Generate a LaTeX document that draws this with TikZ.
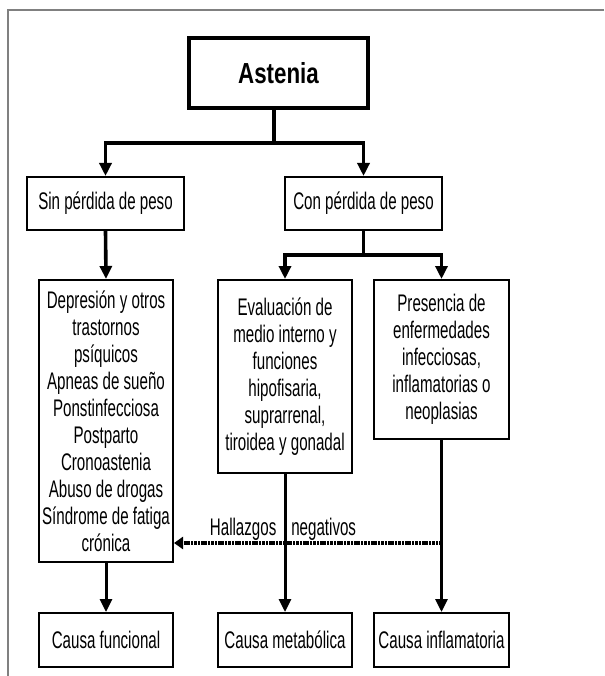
\documentclass[tikz,border=0pt]{standalone}
\usepackage{fontspec}
\setmainfont{Liberation Sans}[FakeStretch=0.63]
\newfontfamily\astfont{Liberation Sans}[FakeStretch=0.77]
\usetikzlibrary{arrows.meta}
\begin{document}
\begin{tikzpicture}[x=1pt,y=-1pt,
  box/.style={draw=black,line width=2pt,inner sep=0pt,align=center,
    font=\fontsize{24}{27}\selectfont},
  conn/.style={line width=3.6pt,-{Triangle[width=12pt,length=13pt]}},
  plain/.style={line width=3.6pt},
  thin conn/.style={line width=3pt,-{Triangle[width=12pt,length=13pt]}},
  dotarrow/.style={line width=4pt,dash pattern=on 2.6pt off 0.8pt,
    -{Triangle[width=12pt,length=9pt]}}]
\useasboundingbox (0,0) rectangle (604,676);
\draw[gray,line width=1.5pt] (604,10) -- (8,10) -- (8,676);

\node[box,line width=3.5pt,minimum width=179pt,minimum height=70pt,
  font=\astfont\fontsize{29}{32}\selectfont\bfseries] (ast) at (278.5,73) {Astenia};
\node[box,minimum width=157pt,minimum height=53pt] (sin) at (105.5,203.5) {Sin pérdida de peso};
\node[box,minimum width=157pt,minimum height=53pt] (con) at (363.5,203.5) {Con pérdida de peso};
\node[box,minimum width=134pt,minimum height=282pt] (dep) at (106,421)
  {Depresión y otros\\trastornos\\psíquicos\\Apneas de sueño\\Ponstinfecciosa\\Postparto\\Cronoastenia\\Abuso de drogas\\Síndrome de fatiga\\crónica};
\node[box,minimum width=134pt,minimum height=193pt] (eval) at (285,376.5)
  {Evaluación de\\medio interno y\\funciones\\hipofisaria,\\suprarrenal,\\tiroidea y gonadal};
\node[box,minimum width=135pt,minimum height=159pt] (pres) at (441.5,359.5)
  {Presencia de\\enfermedades\\infecciosas,\\inflamatorias o\\neoplasias};
\node[box,minimum width=134pt,minimum height=54pt] (cfun) at (106,640) {Causa funcional};
\node[box,minimum width=134pt,minimum height=54pt] (cmet) at (285,640) {Causa metabólica};
\node[box,minimum width=135pt,minimum height=54pt] (cinf) at (441.5,640) {Causa inflamatoria};

\coordinate (j1) at (274,143);
\coordinate (j2) at (363.5,255);
\coordinate (d) at (441.5,543);

\node[anchor=base,inner sep=0pt,font=\fontsize{24}{27}\selectfont] (lab) at (283,535)
  {Hallazgos\hspace{15pt}negativos};

\draw[plain] (ast.south -| j1) -- (j1);
\draw[conn] (j1) -| (sin.north);
\draw[conn] (j1) -| (con.north);
\draw[plain] (con.south) -- (j2);
\draw[conn] (j2) -| (eval.north);
\draw[conn] (j2) -| (pres.north);
\draw[conn] (sin.south) -- (dep.north);
\draw[dotarrow] (d) -- (d -| dep.east);
\draw[thin conn] (dep.south) -- (cfun.north);
\draw[thin conn] (eval.south) -- (cmet.north);
\draw[thin conn] (pres.south) -- (cinf.north);
\end{tikzpicture}
\end{document}
